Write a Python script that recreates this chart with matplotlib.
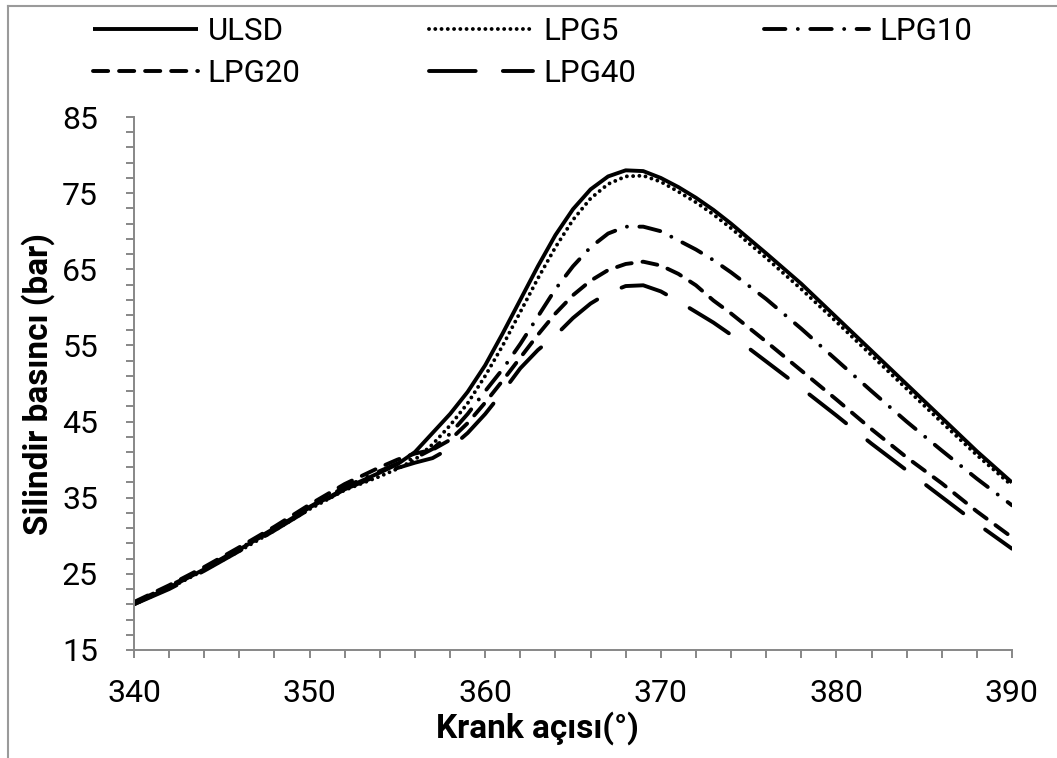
import matplotlib.pyplot as plt
from matplotlib.lines import Line2D
from matplotlib.ticker import MultipleLocator

crank = [340, 342, 344, 346, 348, 350, 352, 354, 355, 356, 357, 358, 359, 360,
         361, 362, 363, 364, 365, 366, 367, 368, 369, 370, 371, 372, 373, 374,
         376, 378, 380, 382, 384, 386, 388, 390]

ulsd = [21.0, 23.2, 25.6, 28.2, 30.9, 33.7, 36.2, 38.3, 39.4, 41.0, 43.5, 46.0,
        48.9, 52.4, 56.6, 61.0, 65.4, 69.5, 72.9, 75.5, 77.2, 78.0, 77.9, 77.0,
        75.8, 74.4, 72.8, 71.0, 67.1, 63.1, 58.7, 54.3, 49.9, 45.5, 41.1, 37.0]
lpg5 = [21.0, 23.1, 25.5, 28.0, 30.7, 33.5, 36.0, 37.8, 38.8, 40.0, 42.0, 44.5,
        47.4, 51.0, 55.0, 59.4, 63.8, 67.9, 71.5, 74.3, 76.2, 77.2, 77.3, 76.5,
        75.2, 73.8, 72.2, 70.4, 66.5, 62.4, 58.1, 53.7, 49.3, 44.9, 40.6, 36.6]
lpg10 = [21.2, 23.4, 25.7, 28.3, 31.0, 33.8, 36.4, 38.5, 39.5, 40.2, 41.4, 43.4,
         46.0, 49.0, 51.9, 55.2, 58.8, 62.4, 65.4, 67.9, 69.7, 70.6, 70.6, 70.0,
         68.8, 67.6, 66.2, 64.6, 61.1, 57.2, 53.1, 49.0, 45.0, 41.2, 37.5, 34.0]
lpg20 = [21.3, 23.5, 25.9, 28.5, 31.2, 34.1, 36.8, 39.0, 40.0, 40.8, 41.3, 42.6,
         44.8, 47.5, 50.4, 53.4, 56.4, 59.2, 61.6, 63.5, 64.9, 65.7, 66.0, 65.5,
         64.4, 62.9, 60.9, 59.2, 55.5, 51.7, 47.9, 44.0, 40.3, 36.9, 33.2, 29.8]
lpg40 = [21.0, 23.0, 25.4, 28.0, 30.7, 33.5, 36.1, 38.0, 38.9, 39.6, 40.2, 41.5,
         43.5, 46.0, 48.9, 52.0, 54.4, 56.3, 58.6, 60.5, 61.9, 62.8, 62.9, 62.1,
         60.8, 59.4, 58.0, 56.4, 52.9, 49.4, 45.8, 42.1, 38.6, 35.1, 31.6, 28.3]

series = [
    ('ULSD', ulsd, '-'),
    ('LPG5', lpg5, (0, (0.01, 1.6))),
    ('LPG10', lpg10, (0, (5.5, 3.2, 0.01, 3.2))),
    ('LPG20', lpg20, (0, (3.9, 2.8))),
    ('LPG40', lpg40, (0, (12, 7))),
]

plt.rcParams['font.family'] = ['Roboto', 'DejaVu Sans']
grey = '#878787'

fig = plt.figure(figsize=(10.57, 7.58), dpi=100)
ax = fig.add_axes([0.1268, 0.1425, 0.8306, 0.7031])

handles = {}
for name, vals, ls in series:
    line, = ax.plot(crank, vals, color='black', lw=2.8, linestyle=ls,
                    dash_capstyle='round', solid_capstyle='butt', label=name)
    handles[name] = line

ax.set_xlim(340, 390)
ax.set_ylim(15, 85)
ax.xaxis.set_major_locator(MultipleLocator(10))
ax.xaxis.set_minor_locator(MultipleLocator(2))
ax.yaxis.set_major_locator(MultipleLocator(10, offset=5))
ax.yaxis.set_minor_locator(MultipleLocator(2, offset=1))

for s in ['top', 'right']:
    ax.spines[s].set_visible(False)
for s in ['left', 'bottom']:
    ax.spines[s].set_color(grey)
    ax.spines[s].set_linewidth(1.4)

ax.tick_params(which='both', direction='out', length=6, width=1.4, color=grey)
ax.tick_params(axis='x', which='major', labelsize=23, pad=15)
ax.tick_params(axis='y', which='major', labelsize=23, pad=20)

ax.set_xlabel('Krank açısı(°)', fontsize=24, fontweight='bold')
ax.xaxis.set_label_coords(0.46, -0.115)
ax.set_ylabel('Silindir basıncı (bar)', fontsize=24, fontweight='bold')
ax.yaxis.set_label_coords(-0.09, 0.5)

# legend is filled column by column, so order the entries to read row-wise
order = ['ULSD', 'LPG20', 'LPG5', 'LPG40', 'LPG10']
fig.legend(handles=[handles[k] for k in order], loc='upper left',
           bbox_to_anchor=(0.088, 0.977), ncol=3, frameon=False, fontsize=22.5,
           handlelength=3.35, handletextpad=0.32, columnspacing=4.1,
           labelspacing=0.4, borderpad=0, borderaxespad=0)

# grey frame around the whole chart
fig.add_artist(Line2D([8 / 1057, 8 / 1057], [0, 1 - 6 / 758], color='#9a9a9a',
                      lw=1.5, transform=fig.transFigure))
fig.add_artist(Line2D([8 / 1057, 1], [1 - 6 / 758, 1 - 6 / 758], color='#9a9a9a',
                      lw=1.5, transform=fig.transFigure))

fig.savefig('out.png', dpi=100)
